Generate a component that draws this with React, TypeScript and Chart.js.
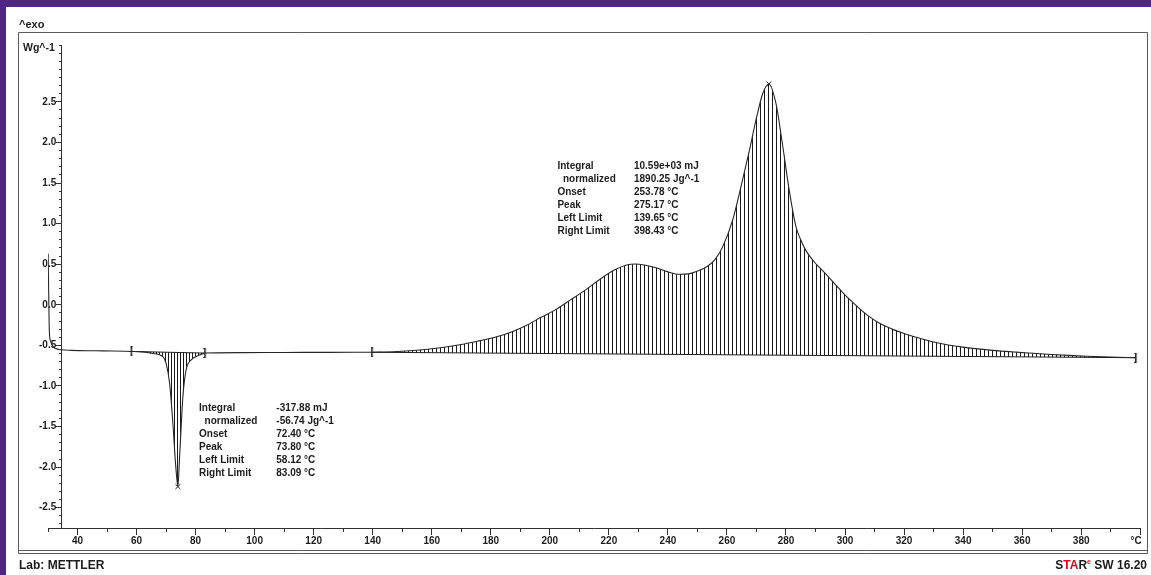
import React, { useEffect, useRef } from 'react';
import { Chart, registerables } from 'chart.js';

Chart.register(...registerables);

// ---------- data (temperature °C, heat flow W/g) ----------
const preT = [30.05, 30.25, 30.45, 30.9, 31.6, 32.6, 34.5, 38, 46, 52, 58.12];
const preW = [0.63, 0.1, -0.32, -0.45, -0.51, -0.54, -0.555, -0.562, -0.567, -0.57, -0.575];

const endoT = [58.12, 62, 65.5, 68.9, 70, 71.2, 72.3, 73.3, 74.0, 74.6, 75.7, 76.8, 78.5, 81.3, 83.09];
const endoW = [-0.575, -0.58, -0.6, -0.64, -0.72, -0.97, -1.46, -2.0, -2.24, -1.86, -1.13, -0.8, -0.68, -0.62, -0.595];
const endoBaseT = [58.12, 83.09];
const endoBaseW = [-0.575, -0.595];

const midT = [83.09, 95, 110, 125, 139.65];
const midW = [-0.595, -0.59, -0.588, -0.586, -0.585];

const exoT = [
  139.65, 147, 155, 163, 170, 176, 182, 187, 192, 197, 202, 207, 212, 217, 222, 226, 229, 232, 236, 240,
  244, 247, 250, 253, 256, 258.5, 261.9, 264.2, 267.6, 269.8, 272.1, 274.2, 276.6, 278.8, 281.1, 283.4,
  285, 286.7, 289.5, 292.4, 296, 299, 302, 305, 308, 312, 316, 320, 325, 330, 335, 340, 346, 352, 358,
  364, 370, 376, 382, 390, 398.43,
];
const exoW = [
  -0.585, -0.578, -0.56, -0.53, -0.49, -0.445, -0.395, -0.335, -0.255, -0.155, -0.06, 0.06, 0.18, 0.315,
  0.43, 0.49, 0.503, 0.49, 0.455, 0.405, 0.375, 0.38, 0.415, 0.465, 0.56, 0.71, 1.04, 1.37, 1.9, 2.27,
  2.6, 2.72, 2.48, 1.98, 1.41, 0.96, 0.8, 0.67, 0.53, 0.42, 0.28, 0.16, 0.05, -0.05, -0.14, -0.235, -0.3,
  -0.355, -0.41, -0.458, -0.495, -0.522, -0.547, -0.568, -0.584, -0.598, -0.612, -0.624, -0.635, -0.645,
  -0.652,
];
const exoBaseT = [139.65, 398.43];
const exoBaseW = [-0.585, -0.652];

const peakT = [74.0, 274.2];
const peakW = [-2.24, 2.72];
const limitT = [58.12, 83.09, 139.65, 398.43];
const limitW = [-0.575, -0.595, -0.585, -0.652];
const limitSide = ['left', 'right', 'left', 'right'];

// ---------- ticks & text ----------
const xMajorTicks = [40, 60, 80, 100, 120, 140, 160, 180, 200, 220, 240, 260, 280, 300, 320, 340, 360, 380, 400];
const xTickLabels = ['40', '60', '80', '100', '120', '140', '160', '180', '200', '220', '240', '260', '280', '300', '320', '340', '360', '380', '°C   '];
const yMajorTicks = [-2.5, -2.0, -1.5, -1.0, -0.5, 0.0, 0.5, 1.0, 1.5, 2.0, 2.5];
const yTickLabels = ['-2.5', '-2.0', '-1.5', '-1.0', '-0.5', '0.0', '0.5', '1.0', '1.5', '2.0', '2.5'];
const yUnitLabel = 'Wg^-1';
const exoMarkLabel = '^exo';
const labText = 'Lab: METTLER';

const noteNames = ['Integral', '  normalized', 'Onset', 'Peak', 'Left Limit', 'Right Limit'];
const endoValues = ['-317.88 mJ', '-56.74 Jg^-1', '72.40 °C', '73.80 °C', '58.12 °C', '83.09 °C'];
const exoValues = ['10.59e+03 mJ', '1890.25 Jg^-1', '253.78 °C', '275.17 °C', '139.65 °C', '398.43 °C'];

// ---------- layout / style (not data) ----------
const X_MIN = 30;
const X_MAX = 400;
const Y_MIN = -2.75;
const Y_MAX = 3.2;
const Y_AXIS_AT = 34.67;
const endoNote = { x: 81.17, y: -1.275, valueX: 107.34 };
const exoNote = { x: 202.57, y: 1.701, valueX: 228.5 };
const FONT = "'Liberation Sans', Arial, Helvetica, sans-serif";
const INK = '#1c1c1c';
const Y_LABEL_GAP = '  ';

const xMinorTicks = Array.from({ length: 38 }, (_, i) => X_MIN + i * 10);
const yMinorTicks = Array.from({ length: 60 }, (_, i) => Math.round((-2.7 + i * 0.1) * 10) / 10);

const pts = (t: number[], w: number[]) => t.map((x, i) => ({ x, y: w[i] }));

function hatch(period: number): CanvasPattern | string {
  const c = document.createElement('canvas');
  c.width = period;
  c.height = 4;
  const g = c.getContext('2d');
  if (!g) return '#888';
  g.fillStyle = '#1a1a1a';
  g.fillRect(0, 0, 1, 4);
  return g.createPattern(c, 'repeat') || '#888';
}

function bracket(side: string): HTMLCanvasElement {
  const c = document.createElement('canvas');
  c.width = 5;
  c.height = 10;
  const g = c.getContext('2d');
  if (g) {
    g.fillStyle = '#1a1a1a';
    g.fillRect(2, 0, 1.5, 10);
    if (side === 'left') {
      g.fillRect(2, 0, 2, 1);
      g.fillRect(2, 9, 2, 1);
    } else {
      g.fillRect(1, 0, 2, 1);
      g.fillRect(1, 9, 2, 1);
    }
  }
  return c;
}

const decor = {
  id: 'decor',
  beforeDraw(chart: any) {
    const { ctx, width, height } = chart;
    ctx.save();
    ctx.fillStyle = '#4f2683';
    ctx.fillRect(0, 0, width, height);
    ctx.fillStyle = '#ffffff';
    ctx.fillRect(6, 7, width - 6, height - 7);
    ctx.strokeStyle = '#5a5a5a';
    ctx.lineWidth = 1;
    ctx.beginPath();
    ctx.moveTo(18.5, 553.5);
    ctx.lineTo(18.5, 32.5);
    ctx.lineTo(1147.5, 32.5);
    ctx.lineTo(1147.5, 553.5);
    ctx.moveTo(18.5, 550.5);
    ctx.lineTo(1147.5, 550.5);
    ctx.moveTo(18.5, 553.5);
    ctx.lineTo(1147.5, 553.5);
    ctx.stroke();

    ctx.fillStyle = INK;
    ctx.textBaseline = 'alphabetic';
    ctx.textAlign = 'left';
    ctx.font = `bold 11px ${FONT}`;
    ctx.fillText(exoMarkLabel, 19, 28);
    ctx.font = `bold 12px ${FONT}`;
    ctx.fillText(labText, 19, 569);

    // STARe SW 16.20
    const parts: [string, string, boolean][] = [
      ['S', INK, false],
      ['TA', '#e2001a', false],
      ['R', INK, false],
      ['e', '#e2001a', true],
      [' SW 16.20', INK, false],
    ];
    const big = `bold 12px ${FONT}`;
    const small = `bold 7px ${FONT}`;
    let total = 0;
    for (const [t, , sup] of parts) {
      ctx.font = sup ? small : big;
      total += ctx.measureText(t).width;
    }
    let px = 1147 - total;
    for (const [t, col, sup] of parts) {
      ctx.font = sup ? small : big;
      ctx.fillStyle = col;
      ctx.fillText(t, px, sup ? 564 : 569);
      px += ctx.measureText(t).width;
    }
    ctx.restore();
  },
  afterDraw(chart: any) {
    const { ctx } = chart;
    const xs = chart.scales.x;
    const ys = chart.scales.y;
    ctx.save();
    ctx.fillStyle = INK;
    ctx.font = `bold 10.5px ${FONT}`;
    ctx.textAlign = 'right';
    ctx.textBaseline = 'middle';
    ctx.fillText(yUnitLabel, xs.getPixelForValue(Y_AXIS_AT) - 7, chart.chartArea.top + 3.5);

    ctx.font = `bold 10px ${FONT}`;
    ctx.textAlign = 'left';
    const drawNote = (note: any, values: string[]) => {
      const x0 = xs.getPixelForValue(note.x);
      const x1 = xs.getPixelForValue(note.valueX);
      const y0 = ys.getPixelForValue(note.y);
      noteNames.forEach((n, i) => {
        ctx.fillText(n, x0, y0 + i * 13);
        ctx.fillText(values[i], x1, y0 + i * 13);
      });
    };
    drawNote(endoNote, endoValues);
    drawNote(exoNote, exoValues);
    ctx.restore();
  },
};

export default function App() {
  const ref = useRef<HTMLCanvasElement | null>(null);

  useEffect(() => {
    document.body.style.margin = '0';
    document.body.style.overflow = 'hidden';
    const canvas = ref.current;
    if (!canvas) return;

    const line = {
      borderColor: '#262626',
      borderWidth: 1.1,
      pointRadius: 0,
      cubicInterpolationMode: 'monotone' as const,
      fill: false as any,
    };
    const base = { borderColor: '#202020', borderWidth: 1, pointRadius: 0, fill: false as any };
    const tickFont = { family: FONT, size: 10, weight: 'bold' as const };

    const chart = new Chart(canvas, {
      type: 'line',
      data: {
        datasets: [
          { data: pts(preT, preW), ...line },
          { data: pts(endoT, endoW), ...line, fill: '+1', backgroundColor: hatch(3) as any },
          { data: pts(endoBaseT, endoBaseW), ...base },
          { data: pts(midT, midW), ...line },
          { data: pts(exoT, exoW), ...line, fill: '+1', backgroundColor: hatch(4) as any },
          { data: pts(exoBaseT, exoBaseW), ...base },
          {
            data: pts(peakT, peakW),
            showLine: false,
            pointStyle: 'crossRot',
            pointRadius: 3.5,
            borderColor: '#202020',
            borderWidth: 1,
          },
          {
            data: pts(limitT, limitW),
            showLine: false,
            pointStyle: limitSide.map((s) => bracket(s)) as any,
            pointRadius: 5,
          },
        ],
      },
      options: {
        responsive: false,
        devicePixelRatio: 1,
        animation: false,
        events: [],
        layout: { padding: { left: 48, right: 9, top: 45, bottom: 47 } },
        plugins: { legend: { display: false }, tooltip: { enabled: false }, title: { display: false } },
        scales: {
          x: {
            type: 'linear',
            axis: 'x',
            min: X_MIN,
            max: X_MAX,
            position: { y: Y_MIN } as any,
            afterBuildTicks: (s: any) => {
              s.ticks = xMajorTicks.map((v) => ({ value: v }));
            },
            ticks: {
              callback: (_v: any, i: number) => xTickLabels[i],
              autoSkip: false,
              maxRotation: 0,
              minRotation: 0,
              font: tickFont,
              color: INK,
              padding: 1,
            },
            grid: { drawOnChartArea: false, tickLength: 6, color: '#303030', lineWidth: 1 },
            border: { display: true, color: '#303030', width: 1 },
          },
          xMinor: {
            type: 'linear',
            axis: 'x',
            min: X_MIN,
            max: X_MAX,
            position: { y: Y_MIN } as any,
            afterBuildTicks: (s: any) => {
              s.ticks = xMinorTicks.map((v) => ({ value: v }));
            },
            ticks: { display: false, autoSkip: false },
            grid: { drawOnChartArea: false, tickLength: 4, color: '#303030', lineWidth: 1 },
            border: { display: false },
          },
          y: {
            type: 'linear',
            axis: 'y',
            min: Y_MIN,
            max: Y_MAX,
            position: { x: Y_AXIS_AT } as any,
            afterBuildTicks: (s: any) => {
              s.ticks = yMajorTicks.map((v) => ({ value: v }));
            },
            ticks: {
              callback: (_v: any, i: number) => yTickLabels[i] + Y_LABEL_GAP,
              autoSkip: false,
              font: tickFont,
              color: INK,
              padding: 1,
            },
            grid: { drawOnChartArea: false, tickLength: 5, color: '#303030', lineWidth: 1 },
            border: { display: true, color: '#303030', width: 1 },
          },
          yMinor: {
            type: 'linear',
            axis: 'y',
            min: Y_MIN,
            max: Y_MAX,
            position: { x: Y_AXIS_AT } as any,
            afterBuildTicks: (s: any) => {
              s.ticks = yMinorTicks.map((v) => ({ value: v }));
            },
            ticks: { display: false, autoSkip: false },
            grid: { drawOnChartArea: false, tickLength: 3, color: '#303030', lineWidth: 1 },
            border: { display: false },
          },
        },
      } as any,
      plugins: [decor],
    });
    return () => chart.destroy();
  }, []);

  return (
    <div style={{ width: 1151, height: 575, position: 'relative' }}>
      <canvas ref={ref} width={1151} height={575} style={{ display: 'block', width: 1151, height: 575 }} />
    </div>
  );
}
